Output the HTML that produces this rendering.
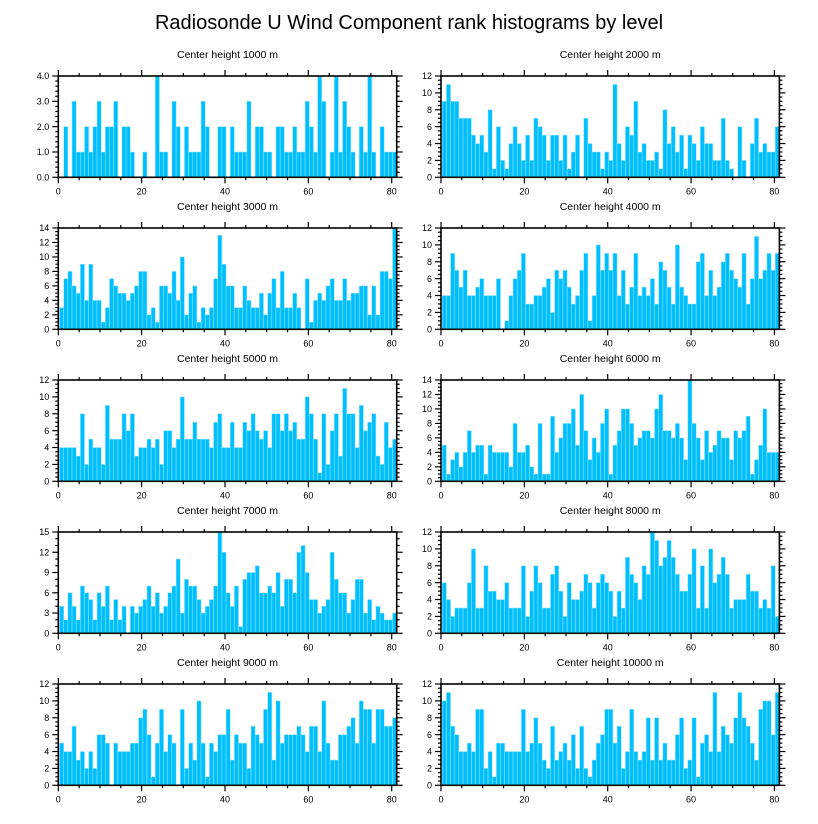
<!DOCTYPE html>
<html><head><meta charset="utf-8">
<style>
html,body{margin:0;padding:0;background:#fff;}
svg{display:block;font-family:"Liberation Sans",Arial,sans-serif;}
</style></head>
<body>
<svg id="chart" width="818" height="824" viewBox="0 0 818 824" xmlns="http://www.w3.org/2000/svg">
<text x="409" y="29" text-anchor="middle" font-size="20" fill="#000">Radiosonde U Wind Component rank histograms by level</text>
</svg>
<script>
const levels = ["1000","2000","3000","4000","5000","6000","7000","8000","9000","10000"];
const yMaxes = [4,12,14,12,12,14,15,12,12,12];
const yStepsMajor = [1,2,2,2,2,2,3,2,2,2];
const yMinorPer = [5,4,4,4,4,4,3,4,4,4];
const xTickLabels = [0,20,40,60,80];
const counts1000 = [0,2,0,3,1,1,2,1,2,3,1,2,2,3,0,2,2,1,0,0,1,0,0,4,1,1,0,3,2,0,2,1,1,1,3,2,0,0,2,2,0,2,1,1,1,3,0,2,2,1,1,0,2,2,1,1,2,1,1,3,2,1,4,3,0,1,4,1,3,2,1,0,2,1,4,1,0,2,1,1,1];
const counts2000 = [9,11,9,9,7,7,7,5,4,5,3,8,1,6,2,1,4,6,4,2,5,2,7,6,5,2,5,5,2,5,1,3,5,0,7,4,3,3,1,3,2,11,4,2,6,5,9,3,4,2,2,3,1,8,4,6,3,5,1,5,4,2,6,4,4,2,2,7,2,1,0,6,2,0,4,7,3,4,3,3,6];
const counts3000 = [3,7,8,6,5,9,4,9,4,4,1,3,7,6,5,5,4,5,6,8,8,2,3,1,6,6,5,8,4,10,2,5,6,1,3,2,3,7,13,9,6,6,3,3,6,4,3,3,5,2,5,7,3,8,3,3,5,3,0,7,1,4,5,4,6,7,4,4,7,4,5,5,6,6,2,6,2,8,8,7,14];
const counts4000 = [4,4,9,7,5,7,4,4,5,6,4,4,4,6,0,1,4,6,7,9,3,3,4,4,5,6,2,7,6,7,5,3,4,7,9,1,4,10,7,9,7,9,4,7,3,5,9,4,5,4,6,3,8,7,5,3,10,5,4,3,3,8,9,4,7,4,5,8,9,7,6,5,9,3,6,11,6,7,9,7,9];
const counts5000 = [4,4,4,4,3,8,2,5,4,4,2,9,5,5,5,8,6,8,3,4,4,5,4,5,2,6,6,4,5,10,5,5,7,5,5,5,4,7,8,4,4,7,4,4,7,6,8,6,5,6,4,8,8,6,8,6,7,5,5,10,8,5,1,8,2,6,8,3,11,8,8,4,9,6,7,8,3,2,7,4,5];
const counts6000 = [5,1,3,4,2,4,7,4,5,5,1,5,4,4,4,4,2,8,4,4,5,2,1,8,1,1,9,4,6,8,8,10,5,12,7,3,6,4,8,10,1,5,7,10,10,8,5,6,7,7,6,10,12,7,7,6,8,6,3,14,8,6,3,7,4,5,7,6,6,3,7,6,7,9,1,3,5,10,4,4,4];
const counts7000 = [4,2,6,4,2,7,6,5,2,6,4,7,2,5,2,4,0,4,3,4,5,7,4,6,3,4,6,7,11,3,8,7,7,5,3,4,5,7,15,12,6,4,7,1,8,9,9,10,6,6,7,6,9,4,8,8,6,12,13,9,5,5,3,4,5,12,8,6,6,3,5,8,8,3,5,2,4,3,2,2,3];
const counts8000 = [6,4,2,3,3,3,6,10,3,3,8,5,5,4,4,6,3,3,3,8,2,5,8,6,3,3,7,8,5,2,6,4,4,5,7,6,3,6,7,6,5,2,5,3,9,7,6,4,8,7,12,11,8,9,11,9,7,5,5,7,10,3,8,3,10,6,7,9,7,3,4,4,4,7,5,5,3,4,3,8,2];
const counts9000 = [5,4,4,7,3,4,2,4,2,6,6,5,0,5,4,4,4,5,5,8,9,6,1,5,9,4,6,5,0,9,2,5,3,10,5,1,5,4,6,6,9,3,6,5,5,2,7,6,5,9,11,3,10,5,6,6,6,7,6,4,7,7,4,10,5,3,3,6,6,7,8,5,10,9,9,5,9,9,7,7,8];
const counts10000 = [10,11,7,6,4,4,5,4,9,9,2,4,1,5,5,4,4,4,4,9,4,5,8,5,3,2,7,3,4,5,3,6,2,7,2,1,3,5,6,9,9,5,7,2,4,9,4,3,4,8,3,8,3,5,3,3,6,8,2,3,8,1,5,6,4,11,4,7,6,5,8,11,8,7,5,3,9,10,10,6,11];
const allCounts = [counts1000,counts2000,counts3000,counts4000,counts5000,counts6000,counts7000,counts8000,counts9000,counts10000];

const NS = "http://www.w3.org/2000/svg";
const svg = document.getElementById("chart");
function mk(tag, attrs, parent){
  const e = document.createElementNS(NS, tag);
  for (const k in attrs) e.setAttribute(k, attrs[k]);
  parent.appendChild(e);
  return e;
}
const XMAX = 81.2, BIN0 = 0.3;
const colLeft = [58.3, 441], panelW = 338.4, panelH = 101.3;
const rowTop = [76, 228, 380, 532, 684];

for (let p = 0; p < 10; p++) {
  const col = p % 2, row = Math.floor(p / 2);
  const L = colLeft[col], T = rowTop[row], W = panelW, H = panelH;
  const ymax = yMaxes[p];
  const xs = v => L + v / XMAX * W;
  const ys = v => T + H - v / ymax * H;
  const g = mk("g", {}, svg);
  
  

  const t = mk("text", {x: L + W/2, y: T - 18, "text-anchor": "middle", "font-size": "10.5", fill: "#000"}, g);
  
  
  t.textContent = "Center height " + levels[p] + " m";

  const data = allCounts[p];
  const bw = (XMAX - BIN0) / data.length;
  const bars = mk("g", {}, g);
  
  
  data.forEach((v, i) => {
    if (v <= 0) return;
    const x0 = xs(BIN0 + i * bw), x1 = xs(BIN0 + (i + 1) * bw);
    const r = mk("rect", {x: x0, y: ys(v), width: x1 - x0, height: ys(0) - ys(v), fill: "#00bfff", stroke: "#9fe6ff", "stroke-width": "0.5"}, bars);
    
    
  });

  const fr = mk("rect", {x: L, y: T, width: W, height: H, fill: "none", stroke: "#000", "stroke-width": "1.6"}, g);
  
  

  // x ticks
  for (let v = 0; v <= 80; v += 5) {
    const x = xs(v), len = (v % 20 === 0) ? 6 : 3;
    mk("line", {x1: x, y1: T + H, x2: x, y2: T + H + len, stroke: "#000", "stroke-width": "1.2"}, g);
    mk("line", {x1: x, y1: T, x2: x, y2: T - len, stroke: "#000", "stroke-width": "1.2"}, g);
  }
  xTickLabels.forEach(v => {
    const tl = mk("text", {x: xs(v), y: T + H + 17, "text-anchor": "middle", "font-size": "9", fill: "#000"}, g);
    
    
    tl.textContent = v;
  });
  // y ticks
  const step = yStepsMajor[p], minor = step / yMinorPer[p];
  for (let k = 0; k * minor <= ymax + 1e-9; k++) {
    const v = k * minor, y = ys(v);
    const major = (k % yMinorPer[p] === 0);
    const len = major ? 6 : 3;
    mk("line", {x1: L, y1: y, x2: L - len, y2: y, stroke: "#000", "stroke-width": "1.2"}, g);
    mk("line", {x1: L + W, y1: y, x2: L + W + len, y2: y, stroke: "#000", "stroke-width": "1.2"}, g);
    if (major) {
      const yl = mk("text", {x: L - 9, y: y + 3.2, "text-anchor": "end", "font-size": "9", fill: "#000"}, g);
      
      
      yl.textContent = (ymax === 4) ? v.toFixed(1) : Math.round(v);
    }
  }
}
</script>
</body></html>
